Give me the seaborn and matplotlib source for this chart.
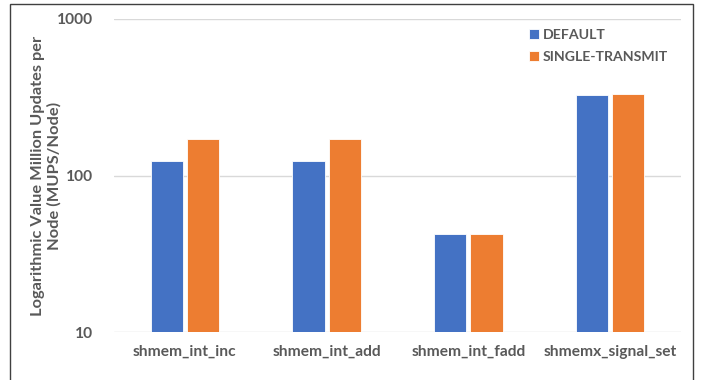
import matplotlib
matplotlib.use("Agg")
import matplotlib.pyplot as plt
import seaborn as sns
import pandas as pd
from matplotlib.patches import Rectangle

# values (log scale)
categories = ["shmem_int_inc", "shmem_int_add", "shmem_int_fadd", "shmemx_signal_set"]
series_names = ["DEFAULT", "SINGLE-TRANSMIT"]
default_vals = [123, 124, 42.5, 328]
single_vals = [172, 172, 42, 331]
y_ticks = [10, 100, 1000]

df = pd.DataFrame({
    "op": categories * 2,
    "mode": [series_names[0]] * 4 + [series_names[1]] * 4,
    "value": default_vals + single_vals,
})

sns.set_style("white")
plt.rcParams["font.family"] = ["Lato", "DejaVu Sans"]
text_col = "#595959"

fig = plt.figure(figsize=(7.01, 3.80), dpi=100)
ax = fig.add_axes([0.1626, 0.1263, 0.809, 0.8237])

sns.barplot(data=df, x="op", y="value", hue="mode", hue_order=series_names,
            palette=["#4472C4", "#ED7D31"], saturation=1, width=0.51, gap=0.11,
            edgecolor="white", linewidth=0.6, ax=ax)

ax.set_yscale("log")
ax.set_ylim(10, 1000)
ax.set_yticks(y_ticks)
ax.set_yticklabels([str(t) for t in y_ticks])
ax.yaxis.set_minor_locator(plt.NullLocator())
ax.set_xlim(-0.5, 3.5)
ax.grid(axis="y", color="#D9D9D9", linewidth=1)
ax.set_axisbelow(True)
for s in ax.spines.values():
    s.set_visible(False)
ax.tick_params(axis="x", length=0, labelsize=11.2, labelcolor=text_col, pad=9)
ax.tick_params(axis="y", length=0, labelsize=11.2, labelcolor=text_col, pad=15)
for lab in ax.get_xticklabels() + ax.get_yticklabels():
    lab.set_fontweight("bold")

ax.set_xlabel("")
ax.set_ylabel("Logarithmic Value Million Updates per\nNode (MUPS/Node)",
              fontsize=11.8, fontweight="bold", color=text_col,
              linespacing=1.15)
ax.yaxis.set_label_coords(-0.093, 0.5)

leg = ax.legend(loc="upper right", bbox_to_anchor=(1.0, 1.008), frameon=False,
                fontsize=10.2, handlelength=0.7, handleheight=0.7,
                handletextpad=0.3, labelspacing=0.7)
for t in leg.get_texts():
    t.set_fontweight("bold")
    t.set_color(text_col)

# outer frame like the exported image
fig.patches.append(Rectangle((10 / 701, -0.01), 683 / 701, 1 - 4 / 380 + 0.01,
                             transform=fig.transFigure, fill=False,
                             edgecolor="#404040", linewidth=1))

fig.savefig("out.png", dpi=100)
